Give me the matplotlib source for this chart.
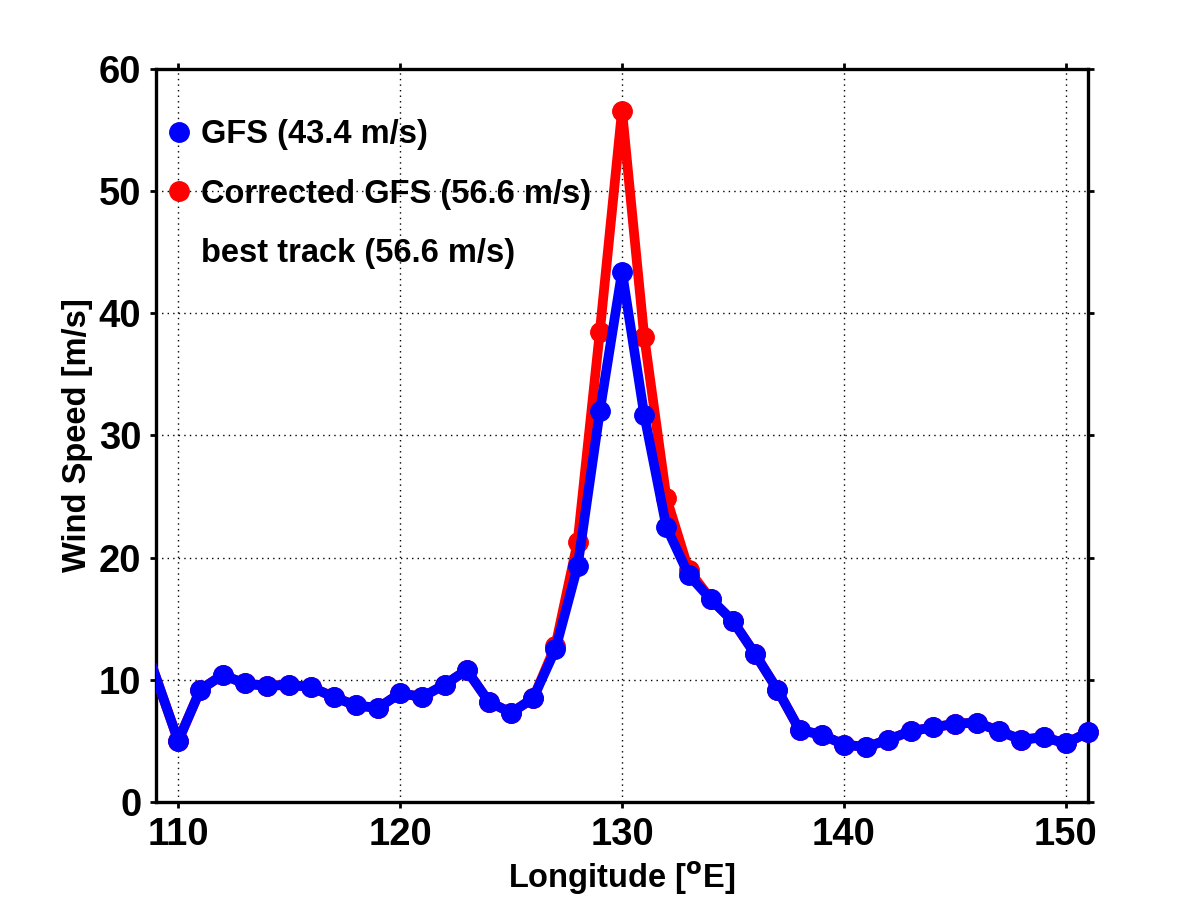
import matplotlib
matplotlib.use('Agg')
import matplotlib.pyplot as plt
from matplotlib.lines import Line2D
import numpy as np

plt.rcParams['font.family'] = ['Liberation Sans', 'DejaVu Sans']
plt.rcParams['font.weight'] = 'bold'

# longitude (deg E) and wind speed (m/s)
lon = [108, 109, 110, 111, 112, 113, 114, 115, 116, 117, 118, 119, 120, 121, 122,
       123, 124, 125, 126, 127, 128, 129, 130, 131, 132, 133, 134, 135, 136, 137,
       138, 139, 140, 141, 142, 143, 144, 145, 146, 147, 148, 149, 150, 151]
gfs = [15.4, 10.2, 5.0, 9.2, 10.4, 9.7, 9.5, 9.6, 9.4, 8.6, 7.9, 7.7, 8.9, 8.6, 9.6,
       10.8, 8.2, 7.3, 8.5, 12.5, 19.3, 32.0, 43.4, 31.7, 22.5, 18.6, 16.6, 14.8, 12.1, 9.2,
       5.9, 5.5, 4.7, 4.5, 5.1, 5.8, 6.1, 6.4, 6.5, 5.8, 5.1, 5.3, 4.8, 5.7]
corrected = [15.4, 10.2, 5.0, 9.2, 10.4, 9.7, 9.5, 9.6, 9.4, 8.6, 7.9, 7.7, 8.9, 8.6, 9.6,
             10.8, 8.2, 7.3, 8.5, 12.8, 21.3, 38.5, 56.6, 38.1, 24.9, 19.0, 16.6, 14.8, 12.1, 9.2,
             5.9, 5.5, 4.7, 4.5, 5.1, 5.8, 6.1, 6.4, 6.5, 5.8, 5.1, 5.3, 4.8, 5.7]

xmin, xmax = 109, 151

fig = plt.figure(figsize=(12.02, 9.01), dpi=100)
ax = fig.add_axes([0.1298, 0.1099, 0.7754, 0.8135])

lw = 7
ms = 14
lon_a = np.array(lon)
# markers only for points inside the axis (left edge point has none)
inside = (lon_a > xmin) & (lon_a <= xmax)

# red under blue
ax.plot(lon, corrected, color='red', lw=lw, solid_joinstyle='round', zorder=3)
ax.plot(lon_a[inside], np.array(corrected)[inside], 'o', color='red', ms=ms,
        clip_on=False, zorder=3)
ax.plot(lon, gfs, color='blue', lw=lw, solid_joinstyle='round', zorder=4)
ax.plot(lon_a[inside], np.array(gfs)[inside], 'o', color='blue', ms=ms,
        clip_on=False, zorder=4)

ax.set_xlim(xmin, xmax)
ax.set_ylim(0, 60)
ax.set_xticks([110, 120, 130, 140, 150])
ax.set_yticks([0, 10, 20, 30, 40, 50, 60])

ax.grid(True, color='black', linestyle=(0, (1, 3)), linewidth=1.0)
ax.set_axisbelow(True)

for s in ax.spines.values():
    s.set_linewidth(2.4)
ax.tick_params(axis='both', which='major', direction='out', length=4.5, width=2,
               labelsize=27.5, pad=6, top=True, right=True)

ax.set_xlabel('Longitude [$\\mathbf{^{o}}$E]', fontsize=23.5, fontweight='bold', labelpad=5)
ax.set_ylabel('Wind Speed [m/s]', fontsize=23.5, fontweight='bold', labelpad=4)

handles = [
    Line2D([], [], color='blue', marker='o', ms=ms, linestyle='None'),
    Line2D([], [], color='red', marker='o', ms=ms, linestyle='None'),
    Line2D([], [], color='none', marker='None', linestyle='None'),
]
labels = ['GFS (43.4 m/s)', 'Corrected GFS (56.6 m/s)', 'best track (56.6 m/s)']
ax.legend(handles, labels, loc='upper left', bbox_to_anchor=(-0.003, 0.949),
          frameon=False, handlelength=0.8, handletextpad=0.25,
          labelspacing=0.87, borderaxespad=0.0,
          prop={'weight': 'bold', 'size': 23.5})

fig.savefig('out.png', dpi=100)
